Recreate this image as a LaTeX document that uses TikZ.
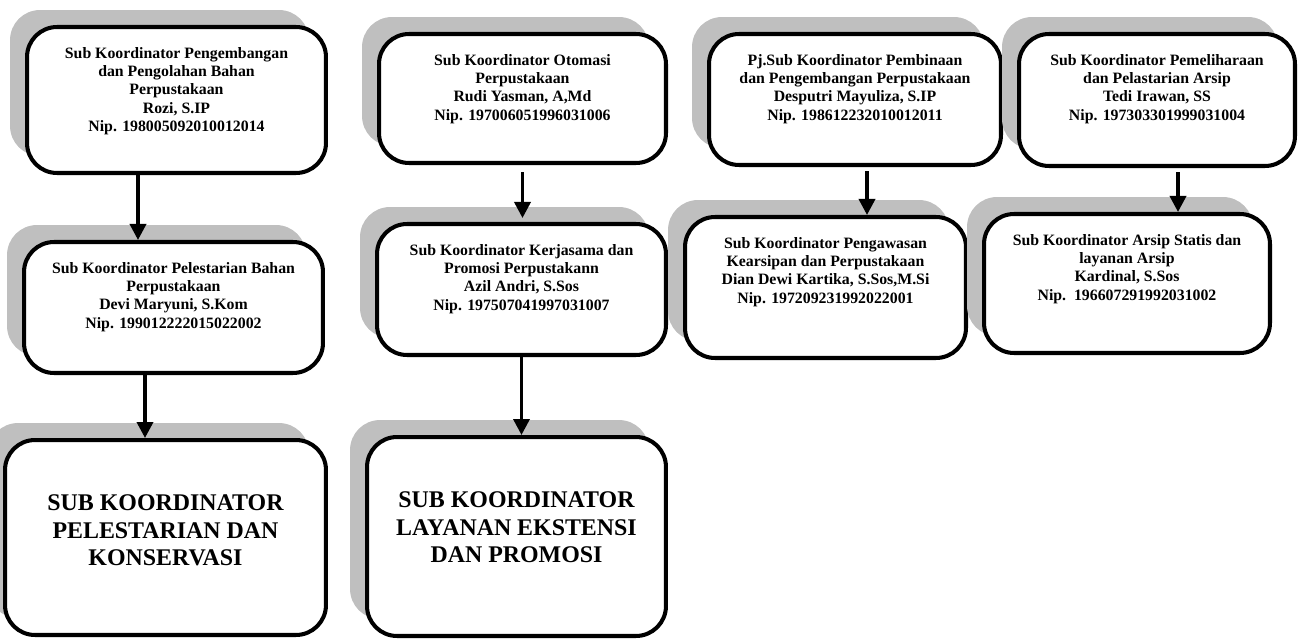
\documentclass[tikz,border=0pt]{standalone}
\usepackage{fontspec}
\setmainfont{Liberation Serif}
\usetikzlibrary{arrows.meta,positioning,shadows}

\begin{document}
\begin{tikzpicture}[
  x=0.02cm, y=-0.02cm,
  sub/.style={draw,rounded corners=0.6cm,line width=2.3pt,fill=white,inner sep=0pt,
    drop shadow={shadow xshift=-0.34cm,shadow yshift=0.34cm,fill=black!25,opacity=1}},
  txt/.style={font=\fontsize{9}{10.4}\selectfont\bfseries,align=center,inner sep=0pt,anchor=north},
  big/.style={font=\fontsize{13.6}{15.6}\selectfont\bfseries,align=center,inner sep=0pt},
  arr/.style={-{Triangle[length=0.32cm,width=0.32cm]},line width=2pt}
]
\useasboundingbox (0,0) rectangle (1298,642);

% column 1
\node[sub,minimum width=5.98cm,minimum height=2.92cm] (rozi) at (176.5,100) {};
\node[txt] (rozi-t) at ([yshift=-0.44cm]rozi.north) {Sub Koordinator Pengembangan\\dan Pengolahan Bahan\\Perpustakaan\\Rozi, S.IP\\Nip. 198005092010012014};
\node[sub,minimum width=5.98cm,minimum height=2.62cm] (devi) at (173.5,307.5) {};
\node[txt] (devi-t) at ([yshift=-0.44cm]devi.north) {Sub Koordinator Pelestarian Bahan\\Perpustakaan\\Devi Maryuni, S.Kom\\Nip. 199012222015022002};
\node[sub,minimum width=6.42cm,minimum height=3.9cm] (pk) at (165.5,537.5) {};
\node[big] (pk-t) at ([yshift=0.14cm]pk.center) {SUB KOORDINATOR\\PELESTARIAN DAN\\KONSERVASI};

% column 2
\node[sub,minimum width=5.74cm,minimum height=2.58cm] (rudi) at (522.5,98.5) {};
\node[txt] (rudi-t) at ([yshift=-0.44cm]rudi.north) {Sub Koordinator Otomasi\\Perpustakaan\\Rudi Yasman, A,Md\\Nip. 197006051996031006};
\node[sub,minimum width=5.78cm,minimum height=2.62cm] (azil) at (521.5,289.5) {};
\node[txt] (azil-t) at ([yshift=-0.44cm]azil.north) {Sub Koordinator Kerjasama dan\\Promosi Perpustakann\\Azil Andri, S.Sos\\Nip. 197507041997031007};
\node[sub,minimum width=5.98cm,minimum height=3.98cm] (lep) at (516.5,536.5) {};
\node[big] (lep-t) at ([yshift=0.18cm]lep.center) {SUB KOORDINATOR\\LAYANAN EKSTENSI\\DAN PROMOSI};

% column 3
\node[sub,minimum width=5.84cm,minimum height=2.62cm] (desputri) at (855,99.5) {};
\node[txt] (desputri-t) at ([yshift=-0.44cm]desputri.north) {Pj.Sub Koordinator Pembinaan\\dan Pengembangan Perpustakaan\\Desputri Mayuliza, S.IP\\Nip. 198612232010012011};
\node[sub,minimum width=5.62cm,minimum height=2.82cm] (dian) at (825.5,287.5) {};
\node[txt] (dian-t) at ([yshift=-0.44cm]dian.north) {Sub Koordinator Pengawasan\\Kearsipan dan Perpustakaan\\Dian Dewi Kartika, S.Sos,M.Si\\Nip. 197209231992022001};

% column 4
\node[sub,minimum width=5.52cm,minimum height=2.64cm] (tedi) at (1157,100) {};
\node[txt] (tedi-t) at ([yshift=-0.44cm]tedi.north) {Sub Koordinator Pemeliharaan\\dan Pelastarian Arsip\\Tedi Irawan, SS\\Nip. 197303301999031004};
\node[sub,minimum width=5.72cm,minimum height=2.78cm] (kardinal) at (1127,283.5) {};
\node[txt] (kardinal-t) at ([yshift=-0.44cm]kardinal.north) {Sub Koordinator Arsip Statis dan\\layanan Arsip\\Kardinal, S.Sos\\Nip.~~196607291992031002};

% arrows
\draw[arr] (rozi.south -| 138,0) -- (devi.north -| 138,0);
\draw[arr] (devi.south -| 145,0) -- (pk.north -| 145,0);
\draw[arr,shorten <=0.14cm,shorten >=0.08cm] (rudi.south) -- (azil.north -| rudi.south);
\draw[arr] (azil.south) -- (lep.north -| azil.south);
\draw[arr,shorten <=0.08cm] (desputri.south -| 867,0) -- (dian.north -| 867,0);
\draw[arr,shorten <=0.08cm] (tedi.south -| 1178,0) -- (kardinal.north -| 1178,0);
\end{tikzpicture}
\end{document}
